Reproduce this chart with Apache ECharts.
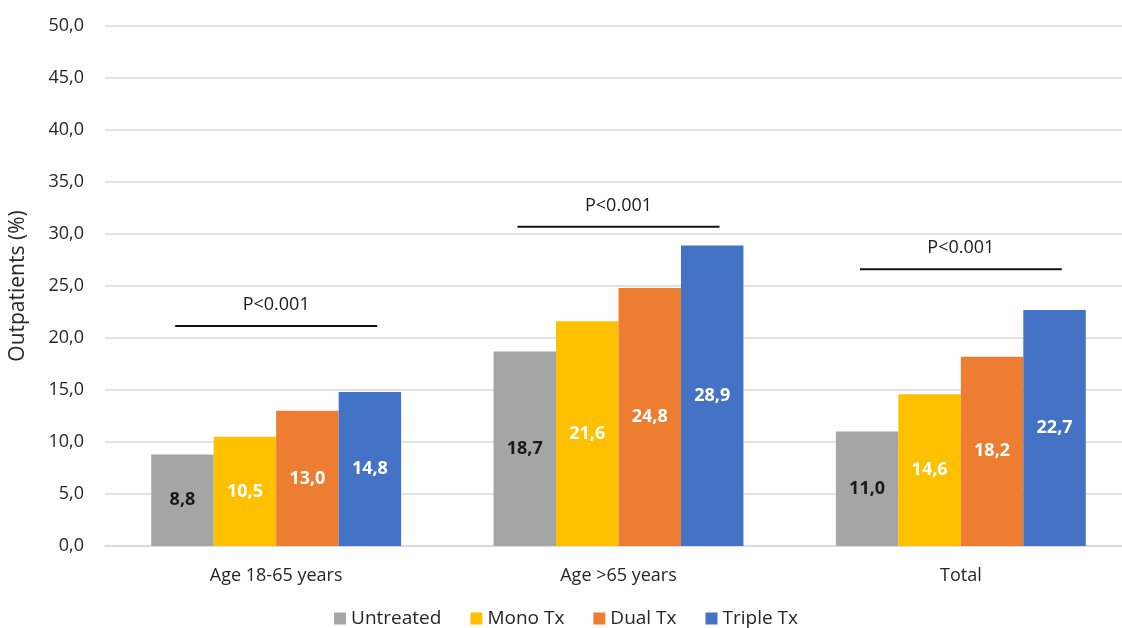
<!DOCTYPE html>
<html>
<head>
<meta charset="utf-8">
<script src="https://cdn.jsdelivr.net/npm/echarts@6/dist/echarts.min.js"></script>
<style>html,body{margin:0;padding:0;background:#fff;overflow:hidden;width:1122px;height:628px;}#c{width:1132px;height:628px;}</style>
</head>
<body>
<div id="c"></div>
<script>
const categories = ['Age 18-65 years', 'Age >65 years', 'Total'];
const seriesNames = ['Untreated', 'Mono Tx', 'Dual Tx', 'Triple Tx'];
const untreated = [8.8, 18.7, 11.0];
const mono = [10.5, 21.6, 14.6];
const dual = [13.0, 24.8, 18.2];
const triple = [14.8, 28.9, 22.7];
const pBarValues = [21.15, 30.7, 26.6];
const pTexts = ['P<0.001', 'P<0.001', 'P<0.001'];

const colors = ['#A5A5A5', '#FFC000', '#ED7D31', '#4472C4'];
const labelColors = ['#1a1a1a', '#ffffff', '#ffffff', '#ffffff'];
const FONT = '"Open Sans", Lato, sans-serif';
const fmt = v => v.toFixed(1).replace('.', ',');

const allValues = [untreated, mono, dual, triple];
const barSeries = allValues.map((vals, i) => ({
  name: seriesNames[i],
  type: 'bar',
  data: vals,
  barGap: '0%',
  barCategoryGap: '27%',
  itemStyle: { color: colors[i] },
  label: {
    show: true,
    position: 'inside',
    color: labelColors[i],
    fontSize: 18,
    fontWeight: 'bold',
    fontFamily: FONT,
    formatter: p => fmt(p.value)
  },
  emphasis: { disabled: true }
}));

const pSeries = {
  type: 'custom',
  name: 'pvalues',
  data: pBarValues.map((v, i) => [i, v, pTexts[i]]),
  renderItem: function (params, api) {
    const c = api.coord([api.value(0), api.value(1)]);
    const w = api.size([1, 0])[0] * 0.59;
    return {
      type: 'group',
      children: [
        { type: 'line', shape: { x1: c[0] - w / 2, y1: c[1], x2: c[0] + w / 2, y2: c[1] },
          style: { stroke: '#111', lineWidth: 2 } },
        { type: 'text', x: c[0], y: c[1] - 21,
          style: { text: pTexts[params.dataIndex], align: 'center', verticalAlign: 'middle',
                   fontSize: 18, fontFamily: FONT, fill: '#1a1a1a' } }
      ]
    };
  },
  z: 10,
  silent: true
};

const chart = echarts.init(document.getElementById('c'), null, { renderer: 'canvas' });
chart.setOption({
  animation: false,
  backgroundColor: '#fff',
  color: colors,
  grid: { left: 101, right: 0, top: 26, bottom: 82, containLabel: false },
  legend: {
    data: seriesNames,
    top: 604,
    left: 'center',
    icon: 'rect',
    itemWidth: 12,
    itemHeight: 12,
    itemGap: 29,
    textStyle: { fontSize: 19, fontFamily: FONT, color: '#262626' }
  },
  xAxis: {
    type: 'category',
    data: categories,
    axisLine: { lineStyle: { color: '#D9D9D9', width: 1.5 } },
    axisTick: { show: false },
    axisLabel: { fontSize: 18, fontFamily: FONT, color: '#262626', margin: 21 }
  },
  yAxis: {
    type: 'value',
    min: 0,
    max: 50,
    interval: 5,
    name: 'Outpatients (%)',
    nameLocation: 'middle',
    nameGap: 76,
    nameTextStyle: { fontSize: 21, fontFamily: FONT, color: '#262626' },
    axisLine: { show: false },
    axisTick: { show: false },
    splitLine: { lineStyle: { color: '#D9D9D9', width: 1.5 } },
    axisLabel: { fontSize: 18, fontFamily: FONT, color: '#262626', margin: 21, formatter: v => fmt(v) }
  },
  series: [...barSeries, pSeries]
});
</script>
</body>
</html>
